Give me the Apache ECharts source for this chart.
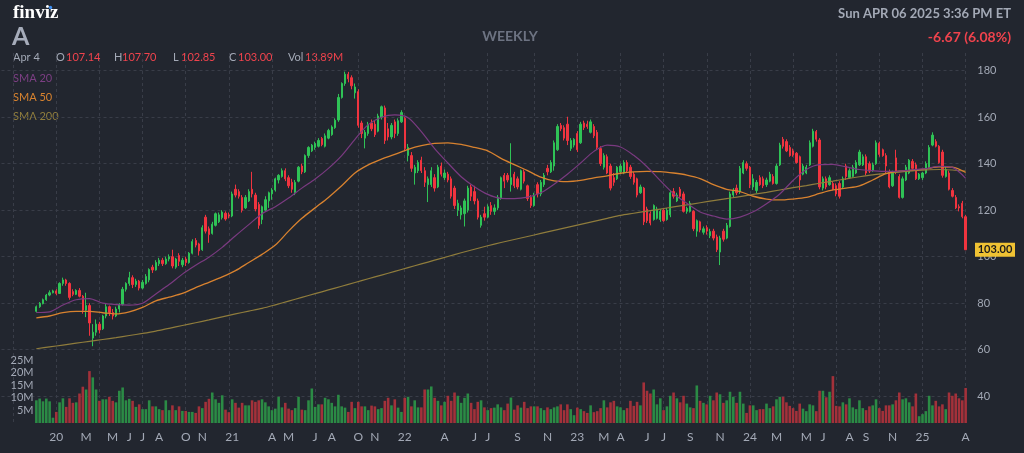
<!DOCTYPE html>
<html>
<head>
<meta charset="utf-8">
<title>A - weekly</title>
<script src="https://cdn.jsdelivr.net/npm/echarts@6/dist/echarts.min.js"></script>
<style>
html, body { margin: 0; padding: 0; background: #22262f; }
#chart { width: 1024px; height: 453px; }
</style>
</head>
<body>
<div id="chart"></div>
<script>
// first weekly bar, and empty weeks kept on the left of it
var startDate = '2019-11-22';
var padWeeks = 10;

// weekly bars: [open, close, low, high]
var candles = [
  [76.5,78.5,76,79],[78.5,80,78,80.5],[79.8,81.5,79.5,82],[81.5,83.5,81,84],[83.5,84.5,83,85.5],
  [84.5,85.3,84.2,85.8],[85.3,84.2,83.5,86],[84.2,88.5,84,89],[88.5,90,87.5,91],[90,88.5,87.5,90.5],
  [88.5,82.5,81.5,89],[85,83.8,83,86],[83.8,85.5,83.5,86],[85.5,83,82.5,86.5],[83,77,75.5,83.5],
  [77,79,74,84.5],[79,71.5,66,80],[65,67.5,61.5,71],[67.5,71,66,73],[71,68.5,67,72],
  [69,74.5,68.5,75],[74.5,78.5,73.5,80],[78.5,76,74.5,79],[76,74.5,73,77.5],[74.5,77.5,74,78.5],
  [77.5,79.5,76,80],[79.5,86,79,87],[86,88.5,85,89],[88.5,91,87.5,93.5],[91,88,86.5,92],
  [88,89.5,87,90.5],[89.5,86.5,85.5,90],[86.5,89,86,90],[88.5,91.5,88,92.5],[90,94.5,89,95],
  [95.5,94.3,93,96.5],[94.3,97.5,94,98.5],[97,98.5,96,99.5],[98.5,97,96,99.5],[97,99,96.5,100],
  [99,100,98,101],[100,96,95,103],[95.5,99,94.8,99.5],[100.5,98,96,101.5],[96.5,98.5,95.5,99.5],
  [99,97.5,96,100],[97.5,101.5,97,102],[101.5,106.5,101,107.5],[107,105,104,108],[105.5,102.5,100.5,106],
  [103,112.5,102.5,113.5],[117,111,110,118],[112,109.5,106,113],[110,114,109.5,115],[113.5,118.5,113,119],
  [115,118,114.5,119],[116.8,119.2,116,120],[118.7,116.2,115.5,119.5],[118,117.5,116.5,119],[117.5,127,117,128],
  [129,126.5,125.5,131],[128,126,125,129],[125.5,120,119,126.5],[121,125.5,120.5,126.5],[124,128,123.5,129],
  [129,127,125.5,136.5],[126.5,120.5,119.5,127.5],[122.5,113.5,112,123.5],[116,121.5,114,122],[120,124.5,119.5,126],
  [124,127.5,121,128],[127,128.7,124.5,129.5],[128.7,133.5,128,134],[133,135,131.5,135.5],[134.5,137,134,138],
  [137,133.5,132.5,138],[134,130.5,129.5,135],[132,129,127.5,133.5],[127.5,132,126.5,133],[132.5,138.5,132,139],
  [139,136.5,135.5,140],[136.5,143.5,136,144],[143.5,147,142.5,147.5],[145.5,148,145,148.5],[147,148.7,146,149.5],
  [147.5,150,147,151],[150.8,148.2,147.5,151.5],[147.5,152,147,153],[151,154.3,150.5,155],[152.5,155.8,152,156.5],
  [155.5,158.7,155,159.5],[158.8,168.5,158,170],[168.5,174.5,168,175],[174.5,178.5,173.5,179.6],[178.5,176.5,175,179.5],
  [177,173.5,172,178],[170.5,173,168,174.5],[171,156.5,155.5,172],[157.5,153,151,158.5],[151,153.5,146.6,154.5],
  [153,157,152,158],[157.5,155,154,159],[157,152.5,151.5,158.5],[154,160.5,153.5,161.5],[160,164.5,159,165],
  [164,150,148.5,165],[155,151.5,150,157.5],[151.5,156.5,150.5,157.5],[158,153,151,159],[153,158.5,152,159.5],
  [158,162,157.5,163],[159.5,146.5,145.5,160],[143.5,147,141,148.5],[143.5,138,136.5,145],[136,138.5,131,139.5],
  [137,140.5,136,141.5],[141.5,137,136,143],[137,132,130,138.5],[131,133.5,123.5,134.5],[131,137,130,138.5],
  [134,129.5,128,135.5],[130,138.5,129.5,139.5],[139,135.5,134.5,140.5],[134,136,133,137.5],[135.5,133,132,136.5],
  [133.5,126,125,134.5],[129.5,122,120.5,130.5],[120,123,117.5,124.5],[118,121,116,122],[118.5,124,113,125],
  [120,129.5,119,130.5],[130,126,124,131],[128,124,122.5,130.5],[124,117,116,125],[113.5,117,112.5,118],
  [118.5,117,115.5,121.5],[117,121.5,116.5,122.5],[122,119.5,118,123.5],[119.5,121,118,122.5],[121,125.5,120,126.5],
  [125,134,124.5,134.5],[135,132.5,129.5,136],[135,133,132,136],[131,134,128,148.8],[135.5,130.5,129.5,136.5],
  [133.5,130,129,134.5],[129,137,128.5,137.5],[136.5,132.5,131.5,137.5],[130.5,125,124,131],[125.5,122,121,126.5],
  [122,126.5,121.5,127.5],[131,127,125.5,132],[127,132,126,133],[131,135,130,136],[138,136.5,135,139.5],
  [136.5,140.5,136,141.5],[139,149,137,150],[146,156,145.5,157],[156.5,155,154,157.5],[155.5,151,150,156.5],
  [157,150,148,160.2],[146.5,150,145.5,151],[148,150.5,147,151],[153,146,145,154],[149,157,148.5,158],
  [157.5,155.5,154.5,158.5],[157,156,155,158.5],[153.5,158,153,159],[156,152,151,157],[153.5,147,146,154.5],
  [146.5,140,139,147.5],[138.5,143.5,137.5,144.5],[143,136,135.5,144],[139,129.5,128.5,140],[134,132,130.5,136],
  [133.5,138.5,133,139],[136.5,139,135.5,140],[136,140.5,135.5,141.5],[140.5,137,136,141.5],[138.5,134.5,133.5,139.5],
  [135.5,132,131,136.5],[133.5,126.5,125.5,134],[127.5,130,127,131],[129.5,115,113.6,130],[120.5,115.5,114.5,121.5],
  [118.5,114.5,113.5,119.5],[116,122,115.5,122.5],[116.5,120.5,116,121.5],[116,119.5,115,120.5],[120,115.5,115,121],
  [116,120,115.5,121],[118,127.5,117,128.5],[128,126,125,129.5],[124,126.5,123.5,127.5],[129,126,125,130],
  [127,119.5,119,128],[119.5,120.8,118.5,121.5],[119.5,123,119,124],[119.5,112,111,120],[111,115.5,108.6,116],
  [115,111.5,110.5,115.5],[110.5,112,109.5,113],[112.5,111,109.5,113.5],[109,110.8,108,112],[111,108,107,112],
  [108.5,103,102,109.5],[102,108,96.4,109],[111,107.5,106.5,112],[108,113.5,107.5,114.5],[113,127,112.5,128],
  [126.5,128.5,125.5,129.5],[129.5,127.5,126.5,131],[128,138,127,139],[136,140.5,135.5,141.5],[140,138,137,141],
  [138.5,131,129.5,139],[130,133.5,128.7,135.5],[128.5,132,127.3,133],[134,131,130.5,135],[133.5,130.5,129.5,134.5],
  [131,133,130,134],[132.5,135.5,132,136.5],[134.5,131.5,131,135.5],[131.5,139,131,140],[139.5,148,139,149],
  [150.5,147.5,146.5,151.5],[149.5,145.5,145,150.5],[147,143.5,143,148],[145.5,143.8,143,146.5],[144.5,140.5,140,145],
  [143,133,128.7,143.5],[135.5,139,135,140],[136,138.5,135.5,139.5],[139.5,149,139,150],[147.5,154,147,155],
  [153.8,150.5,149.5,154.5],[150.2,130,129,151],[129.5,133.5,128.5,134.5],[133.5,130,129,134.5],[131,134,130.5,135],
  [131.5,129,128.5,132.5],[130.5,127,126,131.5],[131.5,126,125,132.5],[130,133.5,129.5,134.5],[139,134.5,133,140],
  [134,137,133.5,138],[134.5,138.5,134,139.5],[136,140.5,135.5,141.5],[139.5,145,139,146],[139.5,143,139,144],
  [143,136,135,144],[140,136.8,136,141],[137,139.5,136.5,140.5],[140,149,139.5,150],[148.8,144,143,149.5],
  [146,143.5,143,146.5],[143.5,139,136,144.5],[136.5,130,129.4,137.5],[130.5,136.5,130,137],[142.5,136.5,135.5,146],
  [134.5,125.5,125,135.5],[125.5,133.5,125,134.5],[133,138.5,132.5,139.5],[136,141.5,135.5,142],[141,138,137.5,142],
  [139.5,133.5,133,140.5],[133.5,135.5,133,136],[134,136,133,136.5],[136,140,135.5,141],[138.5,147,138,148],
  [148,152.3,147.5,153.5],[149.5,147.5,147,150.5],[147.5,140.5,140,148],[145,135,134,146],[134.5,137.5,134,138.5],
  [136,129,128.5,137],[128.5,126,125.5,129.5],[125.5,121,120.5,126.5],[121.5,121,119.5,122.5],[123,117.2,116.5,124],
  [117.2,103,102.85,118]
];

// weekly volume, millions
var volume = [
  9.0,9.7,8.6,9.7,8.6,2.1,4.4,8.2,9.8,6.4,9.8,8.0,8.2,11.7,14.4,13.3,20.6,18.1,13.3,8.8,
  9.4,9.4,10.4,8.8,8.2,12.8,14.1,9.0,9.6,8.8,6.4,7.4,5.5,5.5,9.0,6.6,6.6,5.5,5.1,9.0,
  5.1,7.0,5.1,6.6,4.8,4.8,4.4,4.4,4.0,6.6,5.9,8.4,9.6,12.1,9.4,8.0,11.0,5.3,4.3,9.4,
  8.0,6.1,8.0,7.0,7.0,9.0,8.4,9.0,9.4,8.2,6.6,5.1,5.7,10.4,6.2,8.0,5.7,5.1,5.9,10.4,
  5.3,5.1,9.0,13.7,6.4,7.4,7.4,10.0,9.4,8.0,6.6,11.2,6.6,6.1,4.4,8.4,5.9,8.4,6.6,6.6,
  5.1,6.9,6.6,5.5,5.9,8.8,10.0,7.0,9.4,6.1,4.4,10.0,10.4,6.6,9.0,6.2,6.2,13.3,13.3,14.5,
  10.0,8.8,7.0,8.4,10.8,8.8,12.1,10.8,8.0,10.0,11.7,8.0,5.5,8.4,9.0,6.2,5.1,5.9,6.1,7.4,
  6.2,5.1,7.7,10.1,5.3,7.0,6.1,8.4,5.9,6.6,6.6,6.6,5.9,5.1,6.2,5.5,6.2,6.6,7.4,5.1,
  7.4,5.5,3.1,6.1,5.5,4.7,4.0,7.0,4.3,4.7,5.9,9.0,6.2,8.2,8.8,6.6,6.2,5.1,5.9,8.8,
  6.8,8.4,7.0,16.1,12.8,11.7,13.3,7.4,9.8,5.1,6.6,10.8,12.1,9.8,8.2,10.8,7.7,6.2,5.9,14.9,
  8.8,8.0,7.4,10.8,9.0,12.1,11.4,8.0,9.0,12.4,10.4,8.0,12.4,7.7,4.0,7.0,7.0,5.1,5.5,5.5,
  7.7,5.9,6.6,9.4,10.4,10.4,8.2,6.8,5.9,4.8,7.7,5.7,4.7,7.4,7.0,4.7,12.8,12.8,10.2,12.4,
  18.6,6.8,6.6,8.2,7.4,9.8,6.2,5.5,9.0,5.9,5.1,6.6,7.0,9.4,5.9,4.8,7.0,7.0,7.4,9.0,
  12.1,9.4,9.8,8.2,6.6,11.7,2.7,3.5,4.7,10.8,7.0,8.8,6.6,7.4,5.5,12.1,10.8,11.7,9.8,9.0,
  13.9
];

// moving averages read every 4 weeks from the first bar
var smaStep = 4;
var sma20 = [76.0,76.3,79.2,81.5,82.0,80.0,79.4,79.2,80.0,84.0,88.0,92.5,96.3,99.8,104.0,109.0,113.8,118.5,121.5,125.2,
  129.5,133.4,138.0,143.5,150.5,156.8,160.0,161.0,159.8,153.8,146.5,140.3,134.4,130.1,126.8,125.1,125.0,125.6,127.5,131.2,
  135.5,140.3,145.3,148.0,147.2,143.6,138.7,132.7,127.1,123.0,119.2,117.5,116.2,117.0,119.3,122.8,127.0,132.8,137.5,139.6,
  139.7,138.6,137.5,137.0,136.7,136.8,137.4,137.9,138.9,138.4,133.7];
var sma50 = [73.7,74.5,75.9,76.5,76.5,75.9,75.4,76.3,78.2,81.0,82.6,84.2,86.7,89.0,91.3,94.0,97.5,101.0,105.0,111.0,
  116.5,121.0,125.5,130.5,136.0,139.5,142.0,144.0,146.2,147.8,148.7,149.0,148.3,147.0,145.5,142.3,139.6,137.0,134.2,132.6,
  132.3,132.8,133.9,134.8,135.9,136.5,136.7,136.6,136.0,135.1,133.6,131.0,129.0,128.0,126.0,124.8,124.4,124.8,125.5,127.2,
  128.7,129.5,130.5,133.0,135.7,136.8,137.2,137.8,138.6,138.5,136.2];
var sma200 = [60.4,61.2,62.0,62.8,63.6,64.4,65.2,66.1,67.0,68.0,69.2,70.4,71.6,72.8,74.1,75.4,76.6,77.8,79.3,80.9,
  82.5,84.1,85.7,87.3,88.9,90.5,92.1,93.7,95.3,96.9,98.5,100.1,101.7,103.2,104.7,106.1,107.4,108.7,110.0,111.3,
  112.6,113.9,115.2,116.5,117.8,118.7,119.6,120.5,121.4,122.3,123.2,124.1,125.0,125.8,126.8,127.7,128.7,129.7,130.6,131.6,
  132.5,133.5,134.4,135.2,135.8,136.4,136.9,137.3,137.5,137.3,136.8];

// month labels under the chart (bar index, text)
var tickIdx = [6,15,23,28,32,37,45,50,59,71,76,84,89,97,102,111,123,132,136,145,154,163,171,176,184,189,197,206,215,223,232,237,245,250,258,267,280];
var tickText = ['20','M','M','J','J','A','O','N','21','A','M','J','A','O','N','22','A','J','J','S','N','23','M','A','J','J','S','N','24','M','M','J','A','S','N','25','A'];

var upColor = '#2fc256', downColor = '#f0343f';
var volUp = '#2b8b45', volDown = '#a3313a';
var gridColor = '#393d48';
var textGray = '#a3a9b6';
var font = 'Lato, "Open Sans", sans-serif';

var cats = [];
var d0 = new Date(startDate + 'T12:00:00Z').getTime();
for (var i = 0; i < padWeeks + candles.length; i++) {
  cats.push(new Date(d0 + (i - padWeeks) * 7 * 86400000).toISOString().slice(0, 10));
}
// dashed vertical lines at the first bar of each quarter
var quarterAt = {};
for (var i = 1; i < cats.length; i++) {
  var m = +cats[i].slice(5, 7), pm = +cats[i - 1].slice(5, 7);
  if (m !== pm && (m - 1) % 3 === 0) quarterAt[i] = true;
}
var labelAt = {};
tickIdx.forEach(function (t, k) { labelAt[t + padWeeks] = tickText[k]; });

var lastClose = candles[candles.length - 1][1];

function smaData(arr) {
  return arr.map(function (v, k) { return [k * smaStep + padWeeks, v]; });
}

function label(x, y, text, fill, fnt, align) {
  return { type: 'text', x: x, y: y, style: { text: text, fill: fill, font: fnt, textAlign: align || 'left', textVerticalAlign: 'middle' } };
}

var gridBox = { left: 1.5, right: 56.7 };
var red = '#f0434d';

var chart = echarts.init(document.getElementById('chart'));
chart.setOption({
  backgroundColor: '#22262f',
  animation: false,
  textStyle: { fontFamily: font },
  grid: [
    { left: gridBox.left, right: gridBox.right, top: 24.2, bottom: 10.3, outerBoundsMode: 'none' },
    { left: gridBox.left, right: gridBox.right, top: 360, bottom: 30, outerBoundsMode: 'none' },
    { left: gridBox.left, right: gridBox.right, top: 53, bottom: 30, outerBoundsMode: 'none' }
  ],
  xAxis: [
    { gridIndex: 0, type: 'category', data: cats, show: false },
    { gridIndex: 1, type: 'category', data: cats, show: false },
    {
      gridIndex: 2, type: 'category', data: cats,
      axisLine: { show: false },
      axisTick: { show: false, alignWithLabel: true },
      axisLabel: {
        color: textGray, fontSize: 12, margin: 8,
        interval: function (idx) { return labelAt[idx] !== undefined; },
        formatter: function (v, idx) { return labelAt[idx] || ''; }
      },
      splitLine: {
        show: true, alignWithLabel: true,
        interval: function (idx) { return !!quarterAt[idx]; },
        lineStyle: { color: gridColor, type: [3, 3], width: 1 }
      }
    }
  ],
  yAxis: [
    {
      gridIndex: 0, type: 'value', position: 'right', min: 20, max: 200, interval: 20,
      axisLine: { show: false }, axisTick: { show: false },
      axisLabel: {
        color: textGray, fontSize: 11, margin: 10,
        formatter: function (v) { return (v >= 40 && v <= 180) ? String(v) : ''; }
      },
      splitLine: { show: true, showMinLine: false, showMaxLine: false, lineStyle: { color: gridColor, type: [3, 3] } }
    },
    {
      gridIndex: 1, type: 'value', position: 'left', min: 0, max: 25, interval: 5,
      axisLine: { show: false }, axisTick: { show: false }, splitLine: { show: false },
      axisLabel: {
        inside: true, align: 'right', margin: 32, color: textGray, fontSize: 11,
        formatter: function (v) { return v ? v + 'M' : ''; }
      }
    },
    { gridIndex: 2, type: 'value', show: false }
  ],
  series: [
    {
      type: 'bar', xAxisIndex: 1, yAxisIndex: 1, barWidth: '78%', z: 1,
      data: volume.map(function (v, i) {
        var c = candles[i];
        return { value: [i + padWeeks, v], itemStyle: { color: c[1] >= c[0] ? volUp : volDown } };
      })
    },
    {
      type: 'candlestick', xAxisIndex: 0, yAxisIndex: 0, barWidth: 1.8, z: 3,
      dimensions: ['week', 'open', 'close', 'lowest', 'highest'],
      encode: { x: 0, y: [1, 2, 3, 4] },
      data: candles.map(function (c, i) { return [i + padWeeks, c[0], c[1], c[2], c[3]]; }),
      itemStyle: { color: upColor, color0: downColor, borderColor: upColor, borderColor0: downColor, borderWidth: 1 }
    },
    {
      type: 'line', xAxisIndex: 0, yAxisIndex: 0, data: smaData(sma200), smooth: 0.3,
      showSymbol: false, z: 4, lineStyle: { color: '#8f7c3c', width: 1.2 }
    },
    {
      type: 'line', xAxisIndex: 0, yAxisIndex: 0, data: smaData(sma50), smooth: 0.3,
      showSymbol: false, z: 4, lineStyle: { color: '#d8822f', width: 1.3 }
    },
    {
      type: 'line', xAxisIndex: 0, yAxisIndex: 0, data: smaData(sma20), smooth: 0.3,
      showSymbol: false, z: 4, lineStyle: { color: '#7a3a80', width: 1.2 }
    }
  ],
  graphic: [
    label(13, 13, 'finviz', '#ffffff', 'bold 19px "Liberation Serif", serif'),
    { type: 'circle', shape: { cx: 50.5, cy: 7.5, r: 1.7 }, style: { fill: '#3d8ef0' } },
    label(12, 37, 'A', '#a6acba', 'bold 25px ' + font),
    label(510, 36, 'WEEKLY', '#6d7382', 'bold 14px ' + font, 'center'),
    label(1011, 14, 'Sun APR 06 2025 3:36 PM ET', textGray, 'bold 13px ' + font, 'right'),
    label(1011, 37, '-6.67 (6.08%)', red, 'bold 14px ' + font, 'right'),
    label(13, 57, 'Apr 4', textGray, '11px ' + font),
    label(56, 57, 'O', textGray, '11px ' + font),
    label(66, 57, '107.14', red, '11px ' + font),
    label(114, 57, 'H', textGray, '11px ' + font),
    label(122, 57, '107.70', red, '11px ' + font),
    label(173, 57, 'L', textGray, '11px ' + font),
    label(181, 57, '102.85', red, '11px ' + font),
    label(229, 57, 'C', textGray, '11px ' + font),
    label(238, 57, '103.00', red, '11px ' + font),
    label(288, 57, 'Vol', textGray, '11px ' + font),
    label(305, 57, '13.89M', red, '11px ' + font),
    label(13, 78, 'SMA 20', '#7d3f84', '11px ' + font),
    label(13, 97, 'SMA 50', '#d8832f', '11px ' + font),
    label(13, 116, 'SMA 200', '#8f7d3d', '11px ' + font)
  ]
});

// last price tag on the right axis, placed through the price scale
var tagY = chart.convertToPixel({ gridIndex: 0 }, [padWeeks + candles.length - 1, lastClose])[1];
var opt = chart.getOption();
var g = opt.graphic && opt.graphic[0] ? opt.graphic[0].elements.length : 0;
chart.setOption({
  graphic: [
    { id: 'tagBox', type: 'rect', shape: { x: 975, y: tagY - 7, width: 40, height: 14 }, style: { fill: '#f0c233' }, z: 10 },
    { id: 'tagText', type: 'text', x: 995, y: tagY, z: 11,
      style: { text: lastClose.toFixed(2), fill: '#1b1b1b', font: 'bold 11px ' + font, textAlign: 'center', textVerticalAlign: 'middle' } }
  ]
});
</script>
</body>
</html>
